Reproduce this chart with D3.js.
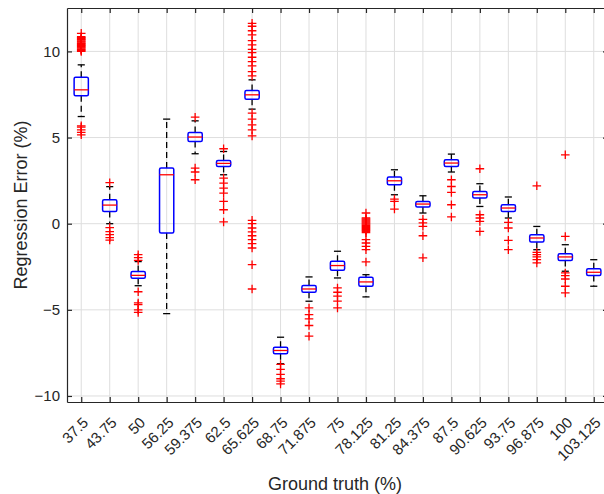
<!DOCTYPE html>
<html><head><meta charset="utf-8">
<script src="https://cdn.jsdelivr.net/npm/d3@7"></script>
<style>body{margin:0;background:#fff}svg{display:block}text{font-family:"Liberation Sans",Arial,sans-serif;fill:#262626}</style>
</head><body><svg id="c" width="604" height="494"></svg>
<script>
const categories = ["37.5","43.75","50","56.25","59.375","62.5","65.625","68.75","71.875","75","78.125","81.25","84.375","87.5","90.625","93.75","96.875","100","103.125"];
const q1Values      = [7.42, 0.71, -3.17, -0.54, 4.77, 3.32, 7.23, -7.55, -3.98, -2.70, -3.63, 2.26, 0.97, 3.32, 1.49, 0.71, -1.06, -2.14, -3.01];
const medianValues  = [7.77, 1.08, -3.00, 2.84, 5.03, 3.50, 7.48, -7.36, -3.79, -2.43, -3.38, 2.49, 1.14, 3.52, 1.68, 0.91, -0.83, -1.93, -2.82];
const q3Values      = [8.50, 1.39, -2.77, 3.23, 5.29, 3.67, 7.73, -7.17, -3.59, -2.18, -3.11, 2.71, 1.29, 3.71, 1.87, 1.10, -0.64, -1.74, -2.61];
const whiskerLow    = [6.22, 0.00, -3.60, -5.22, 4.06, 2.84, 6.65, -8.13, -4.50, -3.15, -4.25, 1.68, 0.62, 3.00, 1.00, 0.33, -1.51, -2.76, -3.63];
const whiskerHigh   = [9.22, 2.15, -2.20, 6.07, 5.97, 4.19, 8.35, -6.59, -3.09, -1.60, -2.96, 3.13, 1.62, 4.04, 2.32, 1.55, -0.16, -1.22, -2.09];
const outlierValues = [
  [11.05, 10.85, 10.8, 10.75, 10.7, 10.65, 10.6, 10.55, 10.5, 10.45, 10.4, 10.35, 10.3, 10.25, 10.2, 10.15, 10.1, 10.05, 10.0, 5.68, 5.6, 5.45, 5.3, 5.16],
  [2.38, -0.23, -0.46, -0.64, -0.81, -0.95],
  [-1.8, -1.97, -2.13, -3.95, -4.6, -4.7, -5.0, -5.15],
  [],
  [6.18, 3.23, 3.0, 2.55],
  [4.35, 2.65, 2.36, 2.07, 1.78, 1.29, 0.81, 0.1],
  [11.63, 11.46, 11.2, 10.96, 10.63, 10.38, 10.12, 9.93, 9.66, 9.41, 9.16, 8.83, 8.58, 6.42, 6.07, 5.74, 5.45, 5.1, 0.19, 0.0, -0.25, -0.48, -0.7, -0.93, -1.16, -1.41, -2.38, -3.79],
  [-8.17, -8.46, -8.75, -9.0, -9.14, -9.3],
  [-4.89, -5.28, -5.53, -5.91, -6.53],
  [-3.73, -3.98, -4.21, -4.5, -4.89],
  [0.62, 0.33, 0.27, 0.21, 0.15, 0.09, 0.03, -0.03, -0.09, -0.15, -0.21, -0.27, -0.33, -0.39, -0.45, -0.52, -0.93, -1.12, -1.32, -1.51, -2.22],
  [1.43, 1.29, 0.85],
  [0.25, 0.05, -0.15, -0.7, -1.98],
  [2.55, 2.16, 1.82, 1.1, 0.39],
  [3.19, 0.52, 0.33, 0.13, -0.45],
  [0.08, -0.25, -0.97, -1.51],
  [2.2, -1.66, -1.8, -1.93, -2.09, -2.28],
  [4.0, -0.74, -2.86, -3.01, -3.21, -3.63, -4.02],
  []
];
const yTicks = [-10, -5, 0, 5, 10];

const svg = d3.select("#c");
const L = 67, R = 608, T = 8, B = 402;
const x = d3.scalePoint().domain(categories).range([L, R]).padding(0.5);
const y = d3.scaleLinear().domain([-10.35, 12.52]).range([B, T]);
const step = x.step();
const axisCol = "#262626";

// grid
const grid = svg.append("g");
grid.selectAll("line.gx").data(categories).join("line")
  .attr("x1", d => x(d)).attr("x2", d => x(d)).attr("y1", T).attr("y2", B)
  .attr("stroke", "#dedede").attr("stroke-width", 1);
grid.selectAll("line.gy").data(yTicks).join("line")
  .attr("x1", L).attr("x2", R).attr("y1", d => y(d)).attr("y2", d => y(d))
  .attr("stroke", "#dedede").attr("stroke-width", 1);

// axes
const xAxis = svg.append("g").attr("transform", `translate(0,${B})`)
  .call(d3.axisBottom(x).tickSizeInner(-5).tickSizeOuter(0));
xAxis.selectAll(".tick text").attr("text-anchor", "end").attr("font-size", 15)
  .attr("x", 0).attr("y", 0).attr("dy", 0)
  .attr("transform", "translate(7.5,21.5) rotate(-45)");
const xTop = svg.append("g").attr("transform", `translate(0,${T})`)
  .call(d3.axisTop(x).tickSizeInner(-5).tickSizeOuter(0).tickFormat(""));
const yAxis = svg.append("g").attr("transform", `translate(${L},0)`)
  .call(d3.axisLeft(y).tickValues(yTicks).tickSizeInner(-5).tickSizeOuter(0).tickPadding(7));
yAxis.selectAll("text").attr("font-size", 15);
const yRight = svg.append("g").attr("transform", `translate(${R},0)`)
  .call(d3.axisRight(y).tickValues(yTicks).tickSizeInner(-5).tickSizeOuter(0).tickFormat(""));
svg.selectAll(".domain").attr("stroke", axisCol).attr("stroke-width", 1.2);
svg.selectAll(".tick line").attr("stroke", axisCol).attr("stroke-width", 1.2);
svg.selectAll(".tick text").attr("fill", axisCol);

// boxes
const rows = categories.map((c, i) => ({c, q1: q1Values[i], med: medianValues[i], q3: q3Values[i], lo: whiskerLow[i], hi: whiskerHigh[i], out: outlierValues[i]}));
const bw = step * 0.5, cw = step * 0.25;
const g = svg.append("g");
const bx = g.selectAll("g.box").data(rows).join("g");
bx.append("line").attr("x1", d => x(d.c)).attr("x2", d => x(d.c)).attr("y1", d => y(d.q3)).attr("y2", d => y(d.hi))
  .attr("stroke", "#000").attr("stroke-width", 1.3).attr("stroke-dasharray", "6,4");
bx.append("line").attr("x1", d => x(d.c)).attr("x2", d => x(d.c)).attr("y1", d => y(d.q1)).attr("y2", d => y(d.lo))
  .attr("stroke", "#000").attr("stroke-width", 1.3).attr("stroke-dasharray", "6,4");
bx.append("line").attr("x1", d => x(d.c) - cw/2).attr("x2", d => x(d.c) + cw/2).attr("y1", d => y(d.hi)).attr("y2", d => y(d.hi))
  .attr("stroke", "#000").attr("stroke-width", 1.3);
bx.append("line").attr("x1", d => x(d.c) - cw/2).attr("x2", d => x(d.c) + cw/2).attr("y1", d => y(d.lo)).attr("y2", d => y(d.lo))
  .attr("stroke", "#000").attr("stroke-width", 1.3);
bx.append("rect").attr("x", d => x(d.c) - bw/2).attr("width", bw)
  .attr("y", d => y(d.q3)).attr("height", d => y(d.q1) - y(d.q3)).attr("rx", 1.5)
  .attr("fill", "none").attr("stroke", "#0000ff").attr("stroke-width", 1.5);
bx.append("line").attr("x1", d => x(d.c) - bw/2).attr("x2", d => x(d.c) + bw/2).attr("y1", d => y(d.med)).attr("y2", d => y(d.med))
  .attr("stroke", "#ff0000").attr("stroke-width", 1.3);
// outliers
const ms = 4.3;
bx.each(function(d){
  d3.select(this).selectAll("path.o").data(d.out).join("path")
    .attr("d", v => `M${x(d.c)-ms},${y(v)}H${x(d.c)+ms}M${x(d.c)},${y(v)-ms}V${y(v)+ms}`)
    .attr("stroke", "#ff0000").attr("stroke-width", 1.3).attr("fill", "none");
});

// labels
svg.append("text").attr("x", 335).attr("y", 490).attr("text-anchor", "middle").attr("font-size", 18).text("Ground truth (%)");
svg.append("text").attr("transform", `translate(27,${(T+B)/2}) rotate(-90)`).attr("text-anchor", "middle").attr("font-size", 18).text("Regression Error (%)");
</script></body></html>
